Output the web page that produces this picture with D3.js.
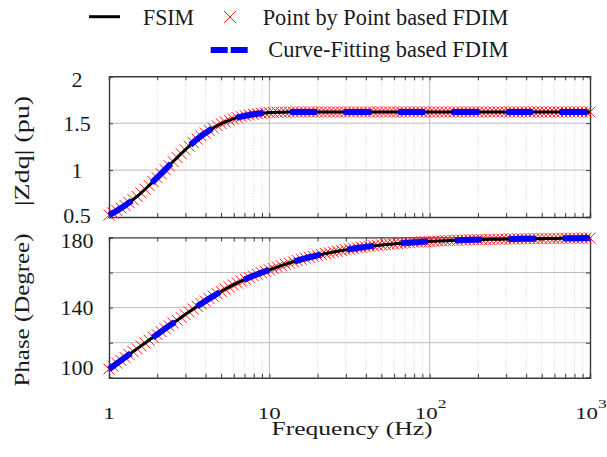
<!DOCTYPE html>
<html>
<head>
<meta charset="utf-8">
<script src="https://cdn.jsdelivr.net/npm/d3@7"></script>
<style>
  html, body { margin: 0; padding: 0; background: #fff; }
  svg { display: block; }
  text { font-family: "Liberation Serif", "Times New Roman", serif; fill: #1a1a1a; }
</style>
</head>
<body>
<div id="chart"></div>
<script>
// ---------------- data ----------------
const freqHz = [
  1, 1.059, 1.122, 1.189, 1.259, 1.334, 1.413, 1.496, 1.585, 1.679, 1.778, 1.884, 1.995, 2.113, 2.239, 2.371, 2.512, 2.661, 2.818, 2.985,
  3.162, 3.350, 3.548, 3.758, 3.981, 4.217, 4.467, 4.732, 5.012, 5.309, 5.623, 5.957, 6.310, 6.683, 7.079, 7.499, 7.943, 8.414, 8.913, 9.441,
  10, 10.59, 11.22, 11.89, 12.59, 13.34, 14.13, 14.96, 15.85, 16.79, 17.78, 18.84, 19.95, 21.13, 22.39, 23.71, 25.12, 26.61, 28.18, 29.85,
  31.62, 33.50, 35.48, 37.58, 39.81, 42.17, 44.67, 47.32, 50.12, 53.09, 56.23, 59.57, 63.10, 66.83, 70.79, 74.99, 79.43, 84.14, 89.13, 94.41,
  100, 105.9, 112.2, 118.9, 125.9, 133.4, 141.3, 149.6, 158.5, 167.9, 177.8, 188.4, 199.5, 211.3, 223.9, 237.1, 251.2, 266.1, 281.8, 298.5,
  316.2, 335.0, 354.8, 375.8, 398.1, 421.7, 446.7, 473.2, 501.2, 530.9, 562.3, 595.7, 631.0, 668.3, 707.9, 749.9, 794.3, 841.4, 891.3, 944.1,
  1000
];
const zdqMag = [
  0.520, 0.543, 0.568, 0.595, 0.623, 0.653, 0.685, 0.720, 0.757, 0.796, 0.836, 0.877, 0.919, 0.962, 1.005, 1.048, 1.091, 1.133, 1.175, 1.216,
  1.256, 1.294, 1.330, 1.364, 1.395, 1.423, 1.449, 1.473, 1.495, 1.514, 1.531, 1.546, 1.559, 1.570, 1.580, 1.588, 1.595, 1.601, 1.606, 1.610,
  1.613, 1.615, 1.616, 1.617, 1.618, 1.619, 1.620, 1.620, 1.620, 1.620, 1.620, 1.620, 1.620, 1.620, 1.620, 1.620, 1.620, 1.620, 1.620, 1.620,
  1.620, 1.620, 1.620, 1.620, 1.620, 1.620, 1.620, 1.620, 1.620, 1.620, 1.620, 1.620, 1.620, 1.620, 1.620, 1.620, 1.620, 1.620, 1.620, 1.620,
  1.620, 1.620, 1.620, 1.620, 1.620, 1.620, 1.620, 1.620, 1.620, 1.620, 1.620, 1.620, 1.620, 1.620, 1.620, 1.620, 1.620, 1.620, 1.620, 1.620,
  1.620, 1.620, 1.620, 1.620, 1.620, 1.620, 1.620, 1.620, 1.620, 1.620, 1.620, 1.620, 1.620, 1.620, 1.620, 1.620, 1.620, 1.620, 1.620, 1.620,
  1.620
];
const phaseDeg = [
  105.0, 106.6, 108.3, 109.9, 111.6, 113.2, 114.9, 116.5, 118.2, 119.8, 121.5, 123.1, 124.7, 126.3, 128.0, 129.6, 131.2, 132.8, 134.4, 136.0,
  137.6, 139.2, 140.7, 142.2, 143.7, 145.1, 146.5, 147.9, 149.2, 150.5, 151.7, 152.9, 154.0, 155.1, 156.1, 157.1, 158.1, 159.0, 159.9, 160.7,
  161.5, 162.3, 163.1, 163.9, 164.7, 165.4, 166.1, 166.8, 167.5, 168.1, 168.7, 169.2, 169.8, 170.3, 170.8, 171.2, 171.7, 172.1, 172.5, 172.9,
  173.3, 173.6, 174.0, 174.3, 174.6, 174.9, 175.2, 175.4, 175.7, 175.9, 176.1, 176.3, 176.5, 176.7, 176.9, 177.0, 177.2, 177.3, 177.5, 177.6,
  177.7, 177.8, 177.9, 178.0, 178.1, 178.2, 178.3, 178.4, 178.5, 178.5, 178.6, 178.7, 178.7, 178.8, 178.8, 178.9, 178.9, 179.0, 179.0, 179.1,
  179.1, 179.1, 179.2, 179.2, 179.2, 179.3, 179.3, 179.3, 179.3, 179.4, 179.4, 179.4, 179.4, 179.5, 179.5, 179.5, 179.5, 179.5, 179.6, 179.6,
  179.6
];
const seriesNames = ["FSIM", "Point by Point based FDIM", "Curve-Fitting based FDIM"];
const xMajorTicks = [1, 10, 100, 1000];
const xTickBase = ["1", "10", "10", "10"];
const xTickExp = ["", "", "2", "3"];
const magTicks = [0.5, 1, 1.5, 2];
const magTickLabels = ["0.5", "1", "1.5", "2"];
const phaseTicks = [100, 120, 140, 160, 180];
const phaseTickLabels = ["100", "", "140", "", "180"];

// ---------------- layout ----------------
const W = 607, H = 457;
const x0 = 109, x1 = 590;
const top1 = 76.3, bot1 = 217;
const top2 = 237.4, bot2 = 377.8;

const svg = d3.select("#chart").append("svg").attr("width", W).attr("height", H);

const x = d3.scaleLog().domain([1, 1000]).range([x0, x1]);
const yMag = d3.scaleLinear().domain([0.5, 2]).range([bot1, top1]);
const yPh = d3.scaleLinear().domain([100, 180]).range([bot2, top2]);

const data = freqHz.map((f, i) => ({ f, m: zdqMag[i], p: phaseDeg[i] }));

// minor tick values (2..9 per decade)
const minorX = [];
[1, 10, 100].forEach(d => { for (let k = 2; k <= 9; k++) minorX.push(d * k); });

function panel(y, top, bot, ticks, labels, key, labelAdj) {
  const g = svg.append("g");
  g.selectAll(".mg").data(minorX).join("line")
    .attr("x1", d => x(d)).attr("x2", d => x(d)).attr("y1", top).attr("y2", bot)
    .attr("stroke", "#c8c8c8").attr("stroke-width", 0.8).attr("stroke-dasharray", "1,2");
  g.selectAll(".Mg").data(xMajorTicks.slice(1, 3)).join("line")
    .attr("x1", d => x(d)).attr("x2", d => x(d)).attr("y1", top).attr("y2", bot)
    .attr("stroke", "#bdbdbd").attr("stroke-width", 1);
  g.selectAll(".yg").data(ticks.slice(1, ticks.length - 1)).join("line")
    .attr("x1", x0).attr("x2", x1).attr("y1", d => y(d)).attr("y2", d => y(d))
    .attr("stroke", "#bdbdbd").attr("stroke-width", 1);

  const axB = d3.axisBottom(x).tickValues(minorX.concat(xMajorTicks)).tickSize(-4).tickFormat("");
  const axT = d3.axisTop(x).tickValues(minorX.concat(xMajorTicks)).tickSize(-4).tickFormat("");
  const axL = d3.axisLeft(y).tickValues(ticks).tickSize(-4).tickFormat("");
  const axR = d3.axisRight(y).tickValues(ticks).tickSize(-4).tickFormat("");
  [[axB, `translate(0,${bot})`], [axT, `translate(0,${top})`], [axL, `translate(${x0},0)`], [axR, `translate(${x1},0)`]]
    .forEach(([ax, tr]) => {
      const a = g.append("g").attr("transform", tr).call(ax);
      a.select(".domain").attr("stroke", "#3a3a3a").attr("stroke-width", 1.4);
      a.selectAll(".tick line").attr("stroke", "#3a3a3a").attr("stroke-width", 1);
    });

  g.selectAll(".yl").data(ticks.map((t, i) => ({ t, s: labels[i], i })).filter(d => d.s))
    .join("text")
    .attr("x", 77).attr("y", d => y(d.t) + (labelAdj[d.i] || 0))
    .attr("dy", "0.35em").attr("text-anchor", "middle")
    .attr("font-size", 22).text(d => d.s);

  const mk = 5.5;
  const mg = g.append("g");
  mg.selectAll("path").data(data).join("path")
    .attr("d", d => {
      const cx = x(d.f), cy = y(d[key]);
      return `M${cx - mk},${cy - mk}L${cx + mk},${cy + mk}M${cx - mk},${cy + mk}L${cx + mk},${cy - mk}`;
    })
    .attr("stroke", "#ff1a1a").attr("stroke-width", 1).attr("fill", "none");
  const line = d3.line().x(d => x(d.f)).y(d => y(d[key])).curve(d3.curveMonotoneX);
  g.append("path").datum(data).attr("d", line)
    .attr("fill", "none").attr("stroke", "#000").attr("stroke-width", 3);
  g.append("path").datum(data).attr("d", line)
    .attr("fill", "none").attr("stroke", "#0000ff").attr("stroke-width", 6)
    .attr("stroke-dasharray", "27,27");
}

panel(yMag, top1, bot1, magTicks, magTickLabels, "m", { 3: 3, 0: -2 });
panel(yPh, top2, bot2, phaseTicks, phaseTickLabels, "p", { 0: -11, 4: 3 });

// x tick labels (wide glyphs, as in the reference)
const xl = svg.append("g");
xMajorTicks.forEach((t, i) => {
  const tx = xl.append("text")
    .attr("transform", `translate(${x(t) + (xTickExp[i] ? 1 : 0)},419) scale(1.35,1)`)
    .attr("text-anchor", "middle").attr("font-size", 17);
  tx.append("tspan").text(xTickBase[i]);
  if (xTickExp[i]) tx.append("tspan").attr("font-size", 13).attr("dy", -11).text(xTickExp[i]);
});

// axis labels
svg.append("text").attr("x", 352).attr("y", 435).attr("text-anchor", "middle")
  .attr("font-size", 19).attr("textLength", 161).attr("lengthAdjust", "spacingAndGlyphs")
  .text("Frequency (Hz)");
svg.append("text").attr("transform", "translate(29,151) rotate(-90)").attr("text-anchor", "middle")
  .attr("font-size", 22).attr("textLength", 110).attr("lengthAdjust", "spacingAndGlyphs")
  .text("|Zdq| (pu)");
svg.append("text").attr("transform", "translate(29,310) rotate(-90)").attr("text-anchor", "middle")
  .attr("font-size", 22).attr("textLength", 153).attr("lengthAdjust", "spacingAndGlyphs")
  .text("Phase (Degree)");

// legend
const lg = svg.append("g");
lg.append("line").attr("x1", 89).attr("x2", 120).attr("y1", 16.7).attr("y2", 16.7)
  .attr("stroke", "#000").attr("stroke-width", 3);
lg.append("text").attr("x", 143).attr("y", 25).attr("font-size", 24)
  .attr("textLength", 51).attr("lengthAdjust", "spacingAndGlyphs").text(seriesNames[0]);
lg.append("path").attr("d", "M224,11L236,23M224,23L236,11")
  .attr("stroke", "#ff1a1a").attr("stroke-width", 1).attr("fill", "none");
lg.append("text").attr("x", 262.7).attr("y", 25).attr("font-size", 24)
  .attr("textLength", 245.6).attr("lengthAdjust", "spacingAndGlyphs").text(seriesNames[1]);
lg.append("line").attr("x1", 210.7).attr("x2", 247.7).attr("y1", 50).attr("y2", 50)
  .attr("stroke", "#0000ff").attr("stroke-width", 6).attr("stroke-dasharray", "17,3");
lg.append("text").attr("x", 268.3).attr("y", 57.3).attr("font-size", 24)
  .attr("textLength", 240).attr("lengthAdjust", "spacingAndGlyphs").text(seriesNames[2]);
</script>
</body>
</html>
